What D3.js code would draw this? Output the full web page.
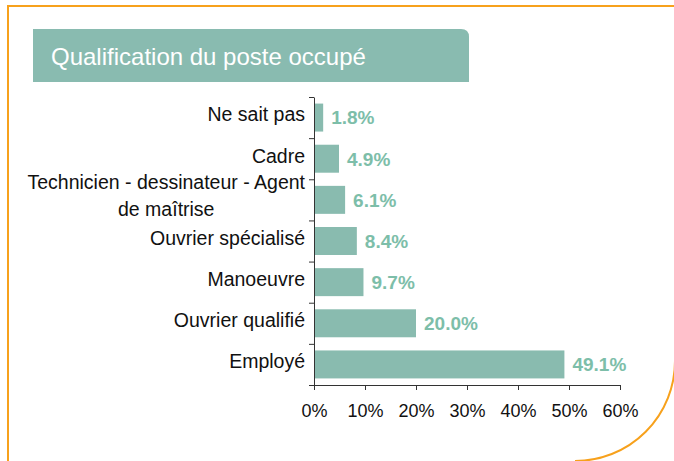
<!DOCTYPE html>
<html>
<head>
<meta charset="utf-8">
<script src="https://cdn.jsdelivr.net/npm/d3@7"></script>
<style>
	body { margin: 0; background: #fff; }
	svg { display: block; font-family: "Liberation Sans", Arial, sans-serif; }
</style>
</head>
<body>
<div id="chart"></div>
<script>

// data, top to bottom
var categories = [
	"Ne sait pas",
	"Cadre",
	"Technicien - dessinateur - Agent de maîtrise",
	"Ouvrier spécialisé",
	"Manoeuvre",
	"Ouvrier qualifié",
	"Employé"
];
var values = [1.8, 4.9, 6.1, 8.4, 9.7, 20.0, 49.1];
var xTicks = [0, 10, 20, 30, 40, 50, 60];
var title = "Qualification du poste occupé";

var width = 674,
	height = 461;

var green      = "#89bbaf",
	labelGreen = "#7dbea9",
	orange     = "#f7a11c";

var svg = d3.select("#chart")
	.append("svg")
	.attr("width", width)
	.attr("height", height);

// orange frame with the big rounded corner bottom right
svg.append("path")
	.attr("d", "M8,470 L8,6 L675,6 L675,361 A100,100 0 0 1 575,461")
	.attr("fill", "none")
	.attr("stroke", orange)
	.attr("stroke-width", 2);

// title banner
svg.append("path")
	.attr("d", "M33,29 H461 Q469,29 469,37 V82 H33 Z")
	.attr("fill", "#89bbb0");

svg.append("text")
	.attr("x", 51)
	.attr("y", 65)
	.attr("fill", "#fff")
	.style("font-size", "24px")
	.text(title);

// scales
var x = d3.scaleLinear()
	.domain([0, 60])
	.range([314, 620]);

var y = d3.scaleBand()
	.domain(categories)
	.range([97, 385])
	.paddingInner(0.32)
	.paddingOuter(0.16);

// boundary ticks of the category axis
var yIdx = d3.scaleLinear()
	.domain([0, categories.length])
	.range([97, 385]);

// bars
svg.append("g")
	.selectAll("rect")
	.data(values)
	.enter()
	.append("rect")
	.attr("x", x(0))
	.attr("y", function(d, i) { return y(categories[i]); })
	.attr("width", function(d) { return x(d) - x(0); })
	.attr("height", y.bandwidth())
	.attr("fill", green);

// value labels
svg.append("g")
	.selectAll("text")
	.data(values)
	.enter()
	.append("text")
	.attr("x", function(d) { return x(d) + 8; })
	.attr("y", function(d, i) { return y(categories[i]) + y.bandwidth() / 2; })
	.attr("dy", "0.36em")
	.attr("fill", labelGreen)
	.style("font-size", "19px")
	.style("font-weight", "bold")
	.text(function(d) { return d.toFixed(1) + "%"; });

// x axis
var xAxis = svg.append("g")
	.attr("transform", "translate(0,385)")
	.call(d3.axisBottom(x)
		.tickValues(xTicks)
		.tickFormat(function(d) { return d + "%"; })
		.tickSize(5)
		.tickSizeOuter(0)
		.tickPadding(14));

xAxis.selectAll("text")
	.attr("fill", "#111")
	.style("font-size", "18px")
	.style("font-family", '"Liberation Sans", Arial, sans-serif');

// y axis (ticks between the categories)
var yAxis = svg.append("g")
	.attr("transform", "translate(314,0)")
	.call(d3.axisLeft(yIdx)
		.tickValues(d3.range(0, categories.length + 1))
		.tickFormat("")
		.tickSize(5)
		.tickSizeOuter(0));

svg.selectAll(".domain, .tick line")
	.attr("stroke", "#333");

// category labels, wrapped lines centred on each other, block right-aligned
var labelRight = 305,
	maxW = 290,
	lineH = 27.4,
	fs = "19.5px";

categories.forEach(function(c, i) {
	var cy = y(c) + y.bandwidth() / 2;
	var t = svg.append("text")
		.attr("fill", "#111")
		.style("font-size", fs);

	var words = c.split(" "), lines = [], cur = [];
	words.forEach(function(w) {
		cur.push(w);
		t.text(cur.join(" "));
		if (t.node().getComputedTextLength() > maxW && cur.length > 1) {
			cur.pop();
			lines.push(cur.join(" "));
			cur = [w];
		}
	});
	lines.push(cur.join(" "));
	t.text(null);

	if (lines.length == 1) {
		t.attr("x", labelRight)
			.attr("y", cy - 3)
			.attr("dy", "0.35em")
			.attr("text-anchor", "end")
			.text(lines[0]);
	} else {
		var widest = 0;
		lines.forEach(function(l) {
			var tmp = svg.append("text").style("font-size", fs).text(l);
			widest = Math.max(widest, tmp.node().getComputedTextLength());
			tmp.remove();
		});
		var mid = labelRight - widest / 2;
		t.attr("text-anchor", "middle");
		lines.forEach(function(l, k) {
			t.append("tspan")
				.attr("x", mid)
				.attr("y", cy - 4 + (k - (lines.length - 1) / 2) * lineH)
				.attr("dy", "0.35em")
				.text(l);
		});
	}
});

</script>
</body>
</html>
